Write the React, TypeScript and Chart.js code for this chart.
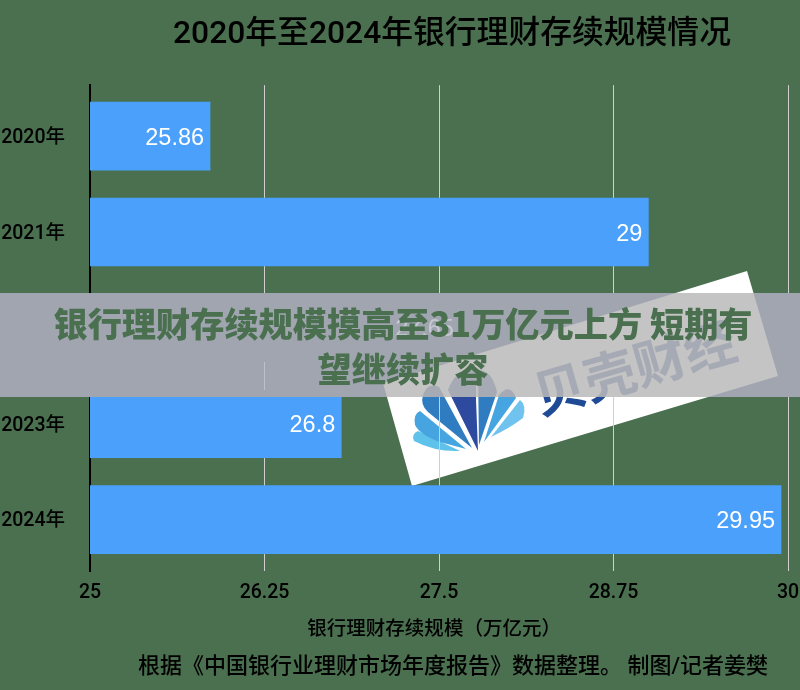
import React, { useEffect, useRef } from "react";
import { Chart, registerables } from "chart.js";

Chart.register(...registerables);

const categories = ["2020年", "2021年", "2022年", "2023年", "2024年"];
const values = [25.86, 29, 27.65, 26.8, 29.95];
const xTicks = [25, 26.25, 27.5, 28.75, 30];
const chartTitle = "2020年至2024年银行理财存续规模情况";
const xTitle = "银行理财存续规模（万亿元）\u3000";
const headline = ["银行理财存续规模摸高至31万亿元上方 短期有", "望继续扩容"];
const footnote = "根据《中国银行业理财市场年度报告》数据整理。 制图/记者姜樊";
const watermarkName = "贝壳财经";

const FONT = 'Roboto,"Noto Sans CJK SC",sans-serif';
const BG = "#4A7050";
const BAND_TOP = 293;
const BAND_H = 104;

const petals: [string, string][] = [
  ["#5EC2EA", "M460,451 L418,431 Q411,434 414,441 Q435,452 460,451 Z"],
  ["#46A5E0", "M466,449 L420,411 Q413,414 415,425 Q420,435 440,442 Z"],
  ["#2F7CC0", "M472,448 L439,387 Q428,382 423,395 Q420,405 428,412 Z"],
  ["#2E4A9E", "M478,451 L448,390 Q456,368 476,370 L476,400 Z"],
  ["#2F7CC0", "M479,445 L478,370 Q492,370 497,392 Z"],
  ["#46A5E0", "M484,442 L499,395 Q510,382 516,398 Z"],
  ["#6FC3EE", "M491,437 L520,400 Q527,405 523,418 Q510,428 491,437 Z"],
];

function drawWatermark(ctx: CanvasRenderingContext2D, rectFill: string, mono: string | null, wordFill: string) {
  ctx.save();
  ctx.fillStyle = rectFill;
  ctx.beginPath();
  ctx.moveTo(383, 383);
  ctx.lineTo(747, 271);
  ctx.lineTo(778, 376);
  ctx.lineTo(412, 486);
  ctx.closePath();
  ctx.fill();
  for (const [color, d] of petals) {
    ctx.fillStyle = mono ?? color;
    ctx.fill(new Path2D(d));
  }
  ctx.translate(540, 415);
  ctx.rotate((-16 * Math.PI) / 180);
  ctx.fillStyle = wordFill;
  ctx.font = `700 52px "Noto Sans CJK SC",sans-serif`;
  ctx.textAlign = "left";
  ctx.textBaseline = "alphabetic";
  ctx.fillText(watermarkName, 0, 0);
  ctx.restore();
}

const scenePlugin = {
  id: "scene",
  beforeDraw(chart: any) {
    const { ctx, width, height } = chart;
    ctx.save();
    ctx.fillStyle = BG;
    ctx.fillRect(0, 0, width, height);
    ctx.restore();
    drawWatermark(ctx, "#FFFFFF", null, "#1F4A96");
  },
  afterLayout(chart: any) {
    chart.titleBlock.left = 116;
    chart.titleBlock.right = 788;
    const y = chart.scales.y;
    y._startValue = -0.532;
    y._valueRange = 5.068;
  },
  afterDatasetsDraw(chart: any) {
    const { ctx } = chart;
    const meta = chart.getDatasetMeta(0);
    ctx.save();
    ctx.fillStyle = "#FFFFFF";
    ctx.font = `23.5px "Liberation Sans",sans-serif`;
    ctx.textAlign = "right";
    ctx.textBaseline = "middle";
    meta.data.forEach((bar: any, i: number) => {
      ctx.fillText(String(values[i]), bar.x - 6, bar.y + 2);
    });
    ctx.restore();
  },
  afterDraw(chart: any) {
    const { ctx, width } = chart;
    const x = chart.scales.x;
    const hidden = chart.getDatasetMeta(0).data[2];
    ctx.save();
    ctx.fillStyle = "#A0A5B0";
    ctx.fillRect(0, BAND_TOP, width, BAND_H);
    ctx.beginPath();
    ctx.rect(0, BAND_TOP, width, BAND_H);
    ctx.clip();
    drawWatermark(ctx, "#C4C4C4", "#A6AAB4", "#A6AAB4");
    // The band is almost opaque: the hidden value and one grid line show faintly through it.
    ctx.fillStyle = "rgba(255,255,255,0.4)";
    ctx.font = `23.5px "Liberation Sans",sans-serif`;
    ctx.textAlign = "right";
    ctx.textBaseline = "middle";
    ctx.fillText(String(values[2]), hidden.x - 6, hidden.y + 2);
    ctx.fillStyle = "rgba(255,255,255,0.3)";
    ctx.fillRect(x.getPixelForValue(xTicks[1]) - 0.5, 362, 1, 28);
    ctx.restore();
  },
};

export default function App() {
  const ref = useRef<HTMLCanvasElement>(null);
  useEffect(() => {
    document.body.style.margin = "0";
    const chart = new Chart(ref.current!, {
      type: "bar",
      data: {
        labels: categories,
        datasets: [{ data: values, backgroundColor: "#4AA0FA", barThickness: 68, borderWidth: 0 }],
      },
      options: {
        indexAxis: "y",
        responsive: false,
        animation: false,
        layout: { padding: { left: 0, right: 12, top: 0, bottom: 40 } },
        plugins: {
          legend: { display: false },
          tooltip: { enabled: false },
          title: {
            display: true,
            text: chartTitle,
            color: "#000000",
            font: { family: FONT, size: 31.8, weight: "500", lineHeight: 1.2 },
            padding: { top: 16, bottom: 31 },
          },
        },
        scales: {
          x: {
            type: "linear",
            min: 25,
            max: 30,
            afterBuildTicks: (s: any) => {
              s.ticks = xTicks.map((value) => ({ value }));
            },
            afterFit: (s: any) => {
              s.height = 79;
              s.paddingLeft = 0;
              s.paddingRight = 0;
            },
            grid: { color: "#CFCFCF", lineWidth: 1, drawTicks: false },
            border: { display: false },
            ticks: {
              color: "#000000",
              padding: 10,
              maxRotation: 0,
              autoSkip: false,
              font: { family: FONT, size: 19.5, weight: "500" },
              callback: (v: any) => String(v),
            },
            title: {
              display: true,
              text: xTitle,
              color: "#000000",
              font: { family: FONT, size: 19.5, weight: "500" },
              padding: { top: 6, bottom: 8 },
            },
          },
          y: {
            afterFit: (s: any) => {
              s.width = 90;
            },
            grid: { display: false, drawTicks: false },
            border: { display: true, color: "#000000", width: 2 },
            ticks: {
              color: "#000000",
              padding: 25,
              labelOffset: 2,
              font: { family: FONT, size: 19.5, weight: "500" },
            },
          },
        },
      } as any,
      plugins: [scenePlugin],
    });
    return () => chart.destroy();
  }, []);

  return (
    <div style={{ position: "relative", width: 800, height: 690, overflow: "hidden", background: BG }}>
      <canvas ref={ref} width={800} height={690} style={{ display: "block" }} />
      <div
        style={{
          position: "absolute",
          left: 0,
          top: BAND_TOP + 7,
          width: 806,
          textAlign: "center",
          color: BG,
          font: `900 34.2px/45px "Noto Sans CJK SC",sans-serif`,
          whiteSpace: "nowrap",
        }}
      >
        {headline[0]}
        <br />
        {headline[1]}
      </div>
      <div
        style={{
          position: "absolute",
          left: 138,
          top: 653,
          color: "#000",
          whiteSpace: "nowrap",
          font: `500 22px/26px ${FONT}`,
        }}
      >
        {footnote}
      </div>
    </div>
  );
}
